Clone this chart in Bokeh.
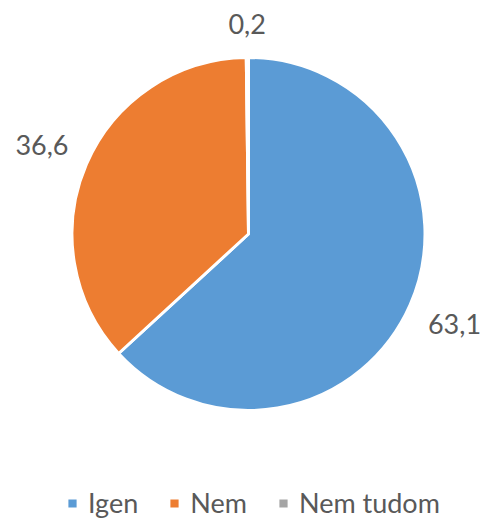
import math
from bokeh.plotting import figure
from bokeh.models import Range1d, Legend, LegendItem, ColumnDataSource
from bokeh.embed import file_html
from bokeh.resources import INLINE
from bokeh.core.properties import value

# ---- data ----
categories = ["Igen", "Nem", "Nem tudom"]
values = [63.1, 36.6, 0.2]
labels = ["63,1", "36,6", "0,2"]
colors = ["#5B9BD5", "#ED7D31", "#A5A5A5"]

# ---- layout ----
W, H = 487, 520
CX, CY, R = 248, 286.5, 176.5
FONT = "Lato"
FS = 27
TEXT_COLOR = "#595959"
GAP = 20

total = sum(values)
starts, ends, lx, ly = [], [], [], []
acc = 0.0
for v, lab in zip(values, labels):
    a0 = math.pi / 2 - 2 * math.pi * acc / total
    acc += v
    a1 = math.pi / 2 - 2 * math.pi * acc / total
    starts.append(a0)
    ends.append(a1)
    mid = (a0 + a1) / 2
    ux, uy = math.cos(mid), math.sin(mid)
    w = 0.47 * FS * len(lab)
    h = 26
    d = R + GAP + abs(ux) * w / 2 + abs(uy) * h / 2
    lx.append(CX + d * ux)
    ly.append(CY + d * uy)

src = ColumnDataSource(dict(cat=categories, val=values, start=starts, end=ends,
                            color=colors, label=labels, lx=lx, ly=ly))

p = figure(width=W, height=H, output_backend="svg", toolbar_location=None,
           x_range=Range1d(0, W), y_range=Range1d(0, H), min_border=0)
p.axis.visible = False
p.grid.visible = False
p.outline_line_color = None

wr = p.wedge(x=CX, y=CY, radius=R, start_angle="start", end_angle="end",
             direction="clock", fill_color="color", line_color="white",
             line_width=3, source=src)

p.text(x="lx", y="ly", text="label", source=src, text_align="center",
       text_baseline="middle", text_font=value(FONT), text_font_size=f"{FS}px",
       text_color=TEXT_COLOR)

items = [LegendItem(label=c, renderers=[wr], index=i) for i, c in enumerate(categories)]
legend = Legend(items=items, orientation="horizontal", location=(65, 1),
                padding=0, margin=0, spacing=29, label_standoff=9,
                glyph_width=14, glyph_height=14,
                border_line_color=None, background_fill_alpha=0,
                label_text_font=FONT, label_text_font_size=f"{FS}px",
                label_text_color=TEXT_COLOR)
p.add_layout(legend)

open("out.html", "w").write(file_html(p, INLINE))
